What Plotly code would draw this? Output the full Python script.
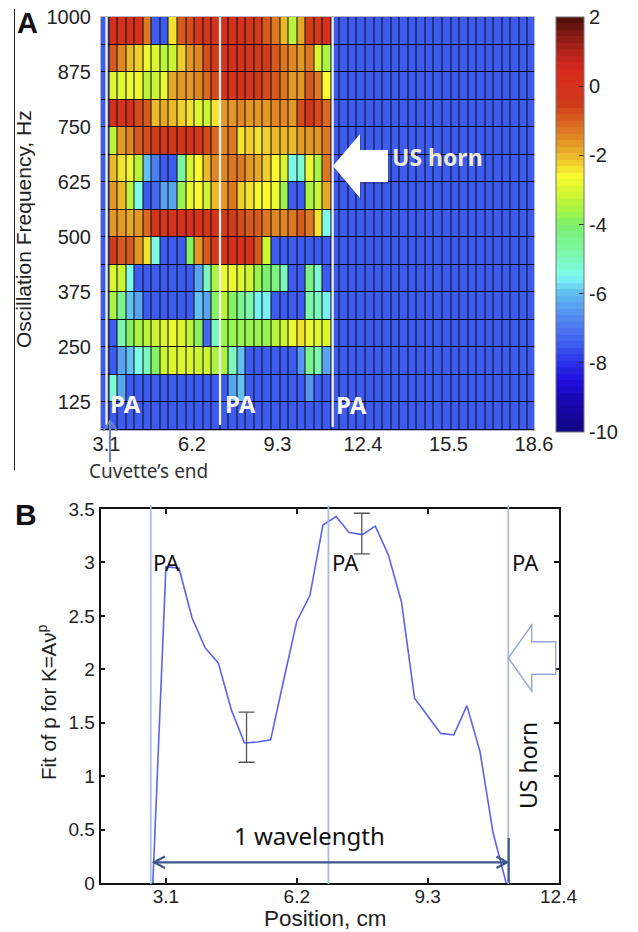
import plotly.graph_objects as go

W, H = 638, 932
B = -7.4  # background blue level of the map

# Panel A: oscillation frequency (rows, top to bottom) x position (columns)
freq_rows = [968.75, 906.25, 843.75, 781.25, 718.75, 656.25, 593.75, 531.25,
             468.75, 406.25, 343.75, 281.25, 218.75, 156.25, 93.75]
left_half = [
    [0, 0, 0, 0, -1.2, B, B, -2.5, -1, -0.8, -0.4, -0.3, -0.2],
    [-1, -1.5, -2, -2.2, -2.8, -3, -3.4, -3.2, -2.3, -1.7, -1.4, -0.7, -0.5],
    [-3, -2.9, -2.8, -2.8, -3.3, -3.2, -2.7, -1.9, -1.6, -1.6, -1.5, -1.1, -0.7],
    [0, -0.1, 0, -0.8, -1, -2, -1.8, -2, -2.2, -2.5, -2.9, -3.1, -2.5],
    [-3.3, -1.6, -1.4, -1, -0.8, -0.5, -0.4, -0.3, -0.2, -0.1, -0.3, -0.8, -1.1],
    [-2.1, -2.4, -2.8, -3.4, -6, -7, B, B, -4.6, -3, -2.6, -2, -1.5],
    [-1.6, -2, -3.4, -5.5, B, -7.2, -6.4, -6.4, -3.8, -2.8, -2.6, -3.1, -2],
    [-1.7, -1.6, -1.8, -1.6, -1.1, -0.4, -0.3, -0.2, 0, 0, -0.1, -0.4, -0.2],
    [-0.6, -1, -0.9, -1.6, -2.4, -5.4, B, B, B, -4, -1.6, -0.9, -0.6],
    [-2.9, -3.2, -5.4, B, B, B, B, B, B, B, -6.4, -5, -3.6],
    [-3.5, -4.4, -6, -6.4, B, B, B, B, B, B, -6, -6.4, -4],
    [B, -4.9, -3.9, -3.6, -3.4, -3.2, -3, -2.8, -3, -3.3, -3.9, -7.3, -5.1],
    [B, -6.3, -6, -5.5, -5, -4, -3.2, -3, -2.9, -3, -3.1, -3.2, -3.5],
    [-5.3, -6.4, B, B, B, B, B, B, B, B, B, B, B],
    [B, B, B, B, B, B, B, B, B, B, B, B, B],
]
right_half = [
    [0, 0, 0.1, -0.4, -0.5, -0.9, -1.3, -2, -3.4, -1.8, -0.6, -0.5, 0],
    [-0.2, 0, -0.1, -0.4, -0.5, -0.6, -0.9, -1.2, -1.4, -1.6, -1.2, -2.9, -3.5],
    [0, -0.1, -0.1, -0.3, -0.6, -0.8, -0.9, -1.3, -1.6, -1.7, -0.9, -1.3, -2.6],
    [-1.7, -1.6, -1.5, -1.7, -1.7, -1.6, -1.5, -1.5, -1.6, -0.7, -0.4, -0.8, -1.1],
    [-1.4, -1.3, -2.4, -2.3, -2.4, -2.2, -2, -2, -2, -1.7, -1.6, -1.7, -1.3],
    [-1.4, -1.2, -1.3, -1.6, -1.9, -2.2, -2.6, -3, -5.5, -5.2, -2.8, -3.6, -1.3],
    [-1.6, -1.3, -2.2, -2.4, -2.6, -2.6, -2.7, -3.8, B, B, -3.6, -3.1, -1.9],
    [-0.5, -0.6, -0.8, -0.9, -0.9, -1.2, -1.5, -1.5, -1.2, -1, -1.3, -2.4, -5.4],
    [-0.2, 0, 0.1, -0.1, -1, -3.2, B, B, B, B, B, B, B],
    [-2.8, -2.7, -3, -3.1, -3.7, -4.1, -4.3, -5.1, B, B, -4.3, -5.2, B],
    [-3.4, -4, -4.4, -4.8, -5.6, -5.6, B, B, B, B, -4.8, -5.1, -5.6],
    [-3.8, -3.7, -3.7, -3.8, -3.8, -3.7, -3.4, -3.2, -2.8, -2.5, -2.7, -2.9, -2.9],
    [-3.6, -5, -6, B, B, B, B, B, B, -6.5, -4.4, -4.8, -6.4],
    [B, -6.4, -6, B, B, B, B, B, B, B, -6.6, B, B],
    [B, B, B, B, B, B, B, B, B, B, B, B, B],
]
empty_cols = 24  # columns past the last antinode are uniformly blue
pa_lines_a = [3.1, 7.215, 11.3]
x_ticks_a = [3.1, 6.2, 9.3, 12.4, 15.5, 18.6]
y_ticks_a = [125, 250, 375, 500, 625, 750, 875, 1000]
cbar_ticks = [2, 0, -2, -4, -6, -8, -10]
cbar_labels = ["2", "0", "-2", "-4", "-6", "-8", "-10"]

# Panel B: fitted exponent against position
position_cm = [2.79, 3.1, 3.41, 3.72, 4.03, 4.34, 4.65, 4.96, 5.27, 5.58, 5.89, 6.2, 6.51, 6.82,
               7.13, 7.44, 7.75, 8.06, 8.37, 8.68, 8.99, 9.3, 9.61, 9.92, 10.23, 10.54, 10.85, 11.16]
fit_p = [0, 2.96, 2.945, 2.48, 2.2, 2.06, 1.62, 1.31, 1.32, 1.34, 1.9, 2.45, 2.69, 3.35,
         3.43, 3.28, 3.26, 3.34, 3.07, 2.63, 1.73, 1.57, 1.4, 1.385, 1.66, 1.23, 0.47, 0]
err_x = [5.01, 7.74]
err_y = [1.31, 3.26]
err_up = [0.29, 0.20]
err_down = [0.18, 0.18]
pa_lines_b = [2.74, 6.95, 11.21]
x_ticks_b = [3.1, 6.2, 9.3, 12.4]
y_ticks_b = [0, 0.5, 1, 1.5, 2, 2.5, 3, 3.5]

# Colour bar anchors: value, colour
cmap_values = [-10, -9, -8.5, -8, -7.4, -6.6, -6, -5.5, -5, -4, -3.6, -3.2, -2.6, -2.3, -2, -1.5, -1, -0.5, 0.5, 1.2, 2]
cmap_colors = ["#100880", "#1808b8", "#2010e0", "#2a30e8", "#4060f0", "#5590f0", "#60bdf0", "#7ffcf2", "#7cf8b8",
               "#7cf06a", "#a5f545", "#c8f535", "#fbfb2e", "#f2d72c", "#e9b728", "#e08a24", "#d8601f", "#d03a1a",
               "#d8281c", "#a0201a", "#4a0f0a"]


def hex_rgb(c):
    return tuple(int(c[i:i + 2], 16) for i in (1, 3, 5))


def banded_scale(n=64):
    out = []
    for k in range(n):
        v = -10 + 12 * (k + 0.5) / n
        for i in range(len(cmap_values) - 1):
            if cmap_values[i] <= v <= cmap_values[i + 1]:
                t = (v - cmap_values[i]) / (cmap_values[i + 1] - cmap_values[i])
                a, b = hex_rgb(cmap_colors[i]), hex_rgb(cmap_colors[i + 1])
                col = "rgb(%d,%d,%d)" % tuple(round(a[j] + t * (b[j] - a[j])) for j in range(3))
                break
        out += [[k / n, col], [(k + 1) / n, col]]
    return out


def px(x):
    return x / W


def py(y):
    return 1 - y / H


def path(points, close=False):
    s = "M" + " L".join(f"{px(x):.5f},{py(y):.5f}" for x, y in points)
    return s + (" Z" if close else "")


z = [[B] + l + r + [B] * empty_cols for l, r in zip(left_half, right_half)]

fig = go.Figure()
# black backdrop: shows through the cell gaps as the grid of panel A
fig.add_trace(go.Heatmap(z=[[0]], x0=10.75, dx=15.7, y0=531.25, dy=937.5, zmin=0, zmax=1,
                         colorscale=[[0, "#0a0a14"], [1, "#0a0a14"]], showscale=False,
                         xaxis="x", yaxis="y", hoverinfo="skip"))
fig.add_trace(go.Heatmap(
    z=z, y=freq_rows, x0=3.035, dx=0.31, zmin=-10, zmax=2, xgap=1, ygap=1,
    colorscale=banded_scale(), xaxis="x", yaxis="y", hoverinfo="skip",
    colorbar=dict(x=px(556), xanchor="left", y=py(17), yanchor="top", len=415, lenmode="pixels",
                  thickness=28, thicknessmode="pixels", xpad=0, ypad=0,
                  outlinecolor="#777", outlinewidth=1,
                  tickmode="array", tickvals=cbar_ticks, ticktext=cbar_labels,
                  ticks="inside", ticklen=5, tickcolor="#333", tickwidth=1,
                  tickfont=dict(family="Liberation Sans", size=20, color="#222")),
))
fig.add_trace(go.Scatter(x=position_cm, y=fit_p, mode="lines", line=dict(color="#5a62ee", width=1.6),
                         xaxis="x2", yaxis="y2", showlegend=False, hoverinfo="skip"))
fig.add_trace(go.Scatter(x=err_x, y=err_y, mode="markers", marker=dict(size=1, opacity=0),
                         error_y=dict(type="data", symmetric=False, array=err_up, arrayminus=err_down,
                                      color="#555", thickness=1.3, width=8),
                         xaxis="x2", yaxis="y2", showlegend=False, hoverinfo="skip"))

shapes = []
for xv, bottom in zip(pa_lines_a, (425, 425, 427)):
    shapes.append(dict(type="line", xref="x", yref="paper", x0=xv, x1=xv, y0=py(17), y1=py(bottom),
                       line=dict(color="#f4f4f6", width=2.2)))
for xv in pa_lines_b:
    shapes.append(dict(type="line", xref="x2", yref="paper", x0=xv, x1=xv, y0=py(505), y1=py(884),
                       line=dict(color="#a9bce8", width=1.8)))
# axis rule to the left of panel A
shapes.append(dict(type="line", xref="paper", yref="paper", x0=px(14.5), x1=px(14.5), y0=py(9), y1=py(470),
                   line=dict(color="#222", width=1)))
# US horn arrow in A (shadow then arrow)
arrow_a = [(333, 166), (360, 134), (360, 150), (388, 150), (388, 182), (360, 182), (360, 198)]
shapes.append(dict(type="path", xref="paper", yref="paper",
                   path=path([(x + 1, y + 2) for x, y in arrow_a], True),
                   fillcolor="rgba(40,40,90,0.35)", line=dict(width=0)))
shapes.append(dict(type="path", xref="paper", yref="paper", path=path(arrow_a, True),
                   fillcolor="white", line=dict(width=0)))
# US horn outline arrow in B
arrow_b = [(508.3, 658), (531.7, 625), (531.7, 641.7), (555.7, 641.7), (555.7, 674.3), (531.7, 674.3), (531.7, 691)]
shapes.append(dict(type="path", xref="paper", yref="paper", path=path(arrow_b, True),
                   fillcolor="white", line=dict(color="#92a9d8", width=1.4)))
# 1-wavelength arrow
dark = "#3d5689"
shapes.append(dict(type="path", xref="paper", yref="paper", path=path([(154, 862.3), (507, 862.3)]),
                   line=dict(color=dark, width=2.2)))
shapes.append(dict(type="path", xref="paper", yref="paper", path=path([(165, 856.5), (154, 862.3), (165, 868)]),
                   line=dict(color=dark, width=2.2)))
shapes.append(dict(type="path", xref="paper", yref="paper", path=path([(496.5, 856.5), (507, 862.3), (496.5, 868)]),
                   line=dict(color=dark, width=2.2)))
shapes.append(dict(type="path", xref="paper", yref="paper", path=path([(508.7, 838), (508.7, 882.7)]),
                   line=dict(color=dark, width=2.2)))
# Cuvette's end arrow
cuv = "#6f88b6"
shapes.append(dict(type="path", xref="paper", yref="paper", path=path([(110, 462), (110, 422)]),
                   line=dict(color=cuv, width=2.2)))
shapes.append(dict(type="path", xref="paper", yref="paper", path=path([(103, 431), (110, 421), (117, 431)]),
                   line=dict(color=cuv, width=1.6)))
# left-side ticks of the colour bar
for v in cbar_ticks[1:-1]:
    yy = 17 + (2 - v) * 415 / 12
    shapes.append(dict(type="path", xref="paper", yref="paper", path=path([(556, yy), (561, yy)]),
                       line=dict(color="#333", width=1)))

helv = "Liberation Sans"
sans = "Noto Sans"


def note(text, x, y, size, color="#111", family=sans, bold=False, angle=0):
    return dict(text=f"<b>{text}</b>" if bold else text, x=px(x), y=py(y), xref="paper", yref="paper",
                xanchor="center", yanchor="middle", showarrow=False, textangle=angle,
                font=dict(family=family, size=size, color=color))


annotations = [
    note("A", 27, 23, 29, "#111", helv, True),
    note("B", 26, 514, 30, "#111", helv, True),
    note("PA", 125, 403, 24, "#f6f6fa", sans, True),
    note("PA", 240, 403, 24, "#f6f6fa", sans, True),
    note("PA", 351, 404, 24, "#f6f6fa", sans, True),
    note("US horn", 437, 157, 23, "#ece8da", sans, True),
    note("Cuvette’s end", 148, 471, 19, "#333"),
    note("PA", 166, 562, 22),
    note("PA", 345, 562, 22),
    note("PA", 525, 562, 22),
    note("1 wavelength", 309, 835, 24),
    note("US horn", 528, 766, 23, angle=-90),
    note("Oscillation Frequency, Hz", 23, 229, 21, "#222", helv, angle=-90),
    note("Fit of p for K=Aν<sup>p</sup>", 47, 702, 20.5, "#222", helv, angle=-90),
    note("Position, cm", 325, 918.5, 22.5, "#222", helv),
]

fig.update_layout(
    width=W, height=H, margin=dict(l=0, r=0, t=0, b=0, autoexpand=False), paper_bgcolor="white", plot_bgcolor="white",
    showlegend=False, shapes=shapes, annotations=annotations,
    xaxis=dict(domain=[px(101), px(534)], anchor="y", range=[2.9, 18.6], tickvals=x_ticks_a,
               ticktext=[f"{v:.1f}" for v in x_ticks_a], ticks="", ticklen=0, ticklabelstandoff=-4,
               showgrid=False, zeroline=False, showline=True, linecolor="#bbb", linewidth=1, mirror=True,
               tickfont=dict(family=helv, size=20, color="#222")),
    yaxis=dict(domain=[py(430), py(17)], anchor="x", range=[62.5, 1000], tickvals=y_ticks_a,
               ticks="outside", ticklen=5, tickcolor="rgba(0,0,0,0)",
               showgrid=False, zeroline=False, showline=True, linecolor="#bbb", linewidth=1, mirror=True,
               tickfont=dict(family=helv, size=20, color="#222")),
    xaxis2=dict(domain=[px(100.5), px(558.5)], anchor="y2", range=[1.55, 12.4], tickvals=x_ticks_b,
                ticktext=[f"{v:.1f}" for v in x_ticks_b], ticks="inside", ticklen=5, tickcolor="#111", tickwidth=1.5,
                ticklabelstandoff=-5,
                showgrid=False, zeroline=False, showline=True, linecolor="#111", linewidth=1.8, mirror="ticks",
                tickfont=dict(family=helv, size=19, color="#222")),
    yaxis2=dict(domain=[py(883), py(509)], anchor="x2", range=[0, 3.5], tickvals=y_ticks_b,
                ticktext=["0", "0.5", "1", "1.5", "2", "2.5", "3", "3.5"], ticks="inside", ticklen=5,
                tickcolor="#111", tickwidth=1.5,
                showgrid=False, zeroline=False, showline=True, linecolor="#111", linewidth=1.8, mirror="ticks",
                tickfont=dict(family=helv, size=19, color="#222")),
)
fig.write_html("out.html", config={"displayModeBar": False}, post_script="document.body.style.margin='0';")
